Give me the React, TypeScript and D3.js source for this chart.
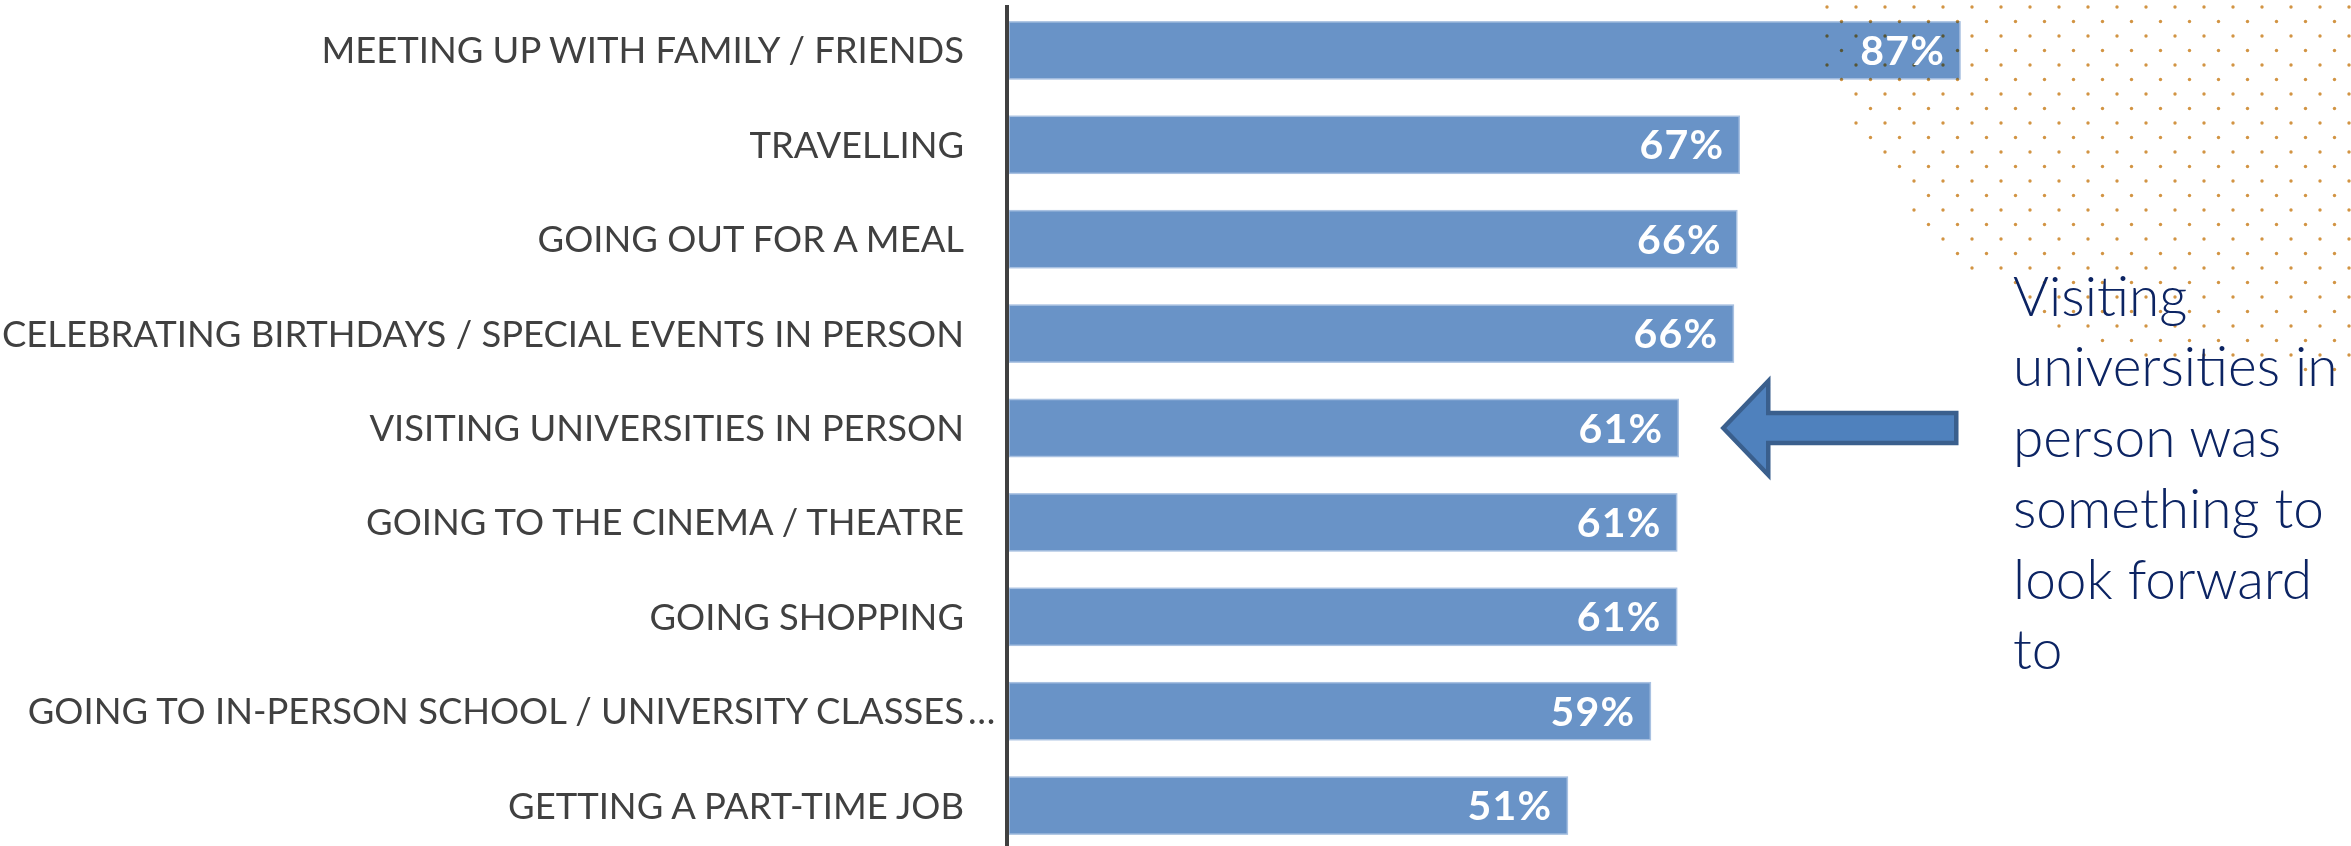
import React from 'react';
import * as d3 from 'd3';

const categories = [
  'MEETING UP WITH FAMILY / FRIENDS',
  'TRAVELLING',
  'GOING OUT FOR A MEAL',
  'CELEBRATING BIRTHDAYS / SPECIAL EVENTS IN PERSON',
  'VISITING UNIVERSITIES IN PERSON',
  'GOING TO THE CINEMA / THEATRE',
  'GOING SHOPPING',
  'GOING TO IN-PERSON SCHOOL / UNIVERSITY CLASSES…',
  'GETTING A PART-TIME JOB',
];
const values = [86.85, 66.69, 66.46, 66.15, 61.12, 60.97, 60.97, 58.57, 50.99];
const highlightCategory = 'VISITING UNIVERSITIES IN PERSON';
const annotationLines = ['Visiting', 'universities in', 'person was', 'something to', 'look forward', 'to'];
// decorative dot field: first column index per row
const DOT_ROW_START = [0, 0, 0, 0, 0, 0, 1, 1, 1, 1, 2, 2, 3, 3, 3, 3, 4, 4, 5, 6, 7, 7, 8, 9, 11, 16];

const W = 2351;
const H = 846;

export default function App() {
  const x = d3.scaleLinear().domain([0, 100]).range([1009, 2104]);
  const y = d3
    .scaleBand<string>()
    .domain(categories)
    .range([3, 853])
    .paddingInner(0.396)
    .paddingOuter(0.2);
  const bw = y.bandwidth();

  const labelX = 964;
  const labelSize = 36.4;
  const pctSize = 41;

  // dots
  const dots: { cx: number; cy: number }[] = [];
  const dx = 29;
  const dyRow = 14.5;
  DOT_ROW_START.forEach((start, k) => {
    const base = 1827 + (k % 2 ? dx / 2 : 0);
    const cy = 7 + k * dyRow;
    for (let i = start; base + i * dx < W; i++) {
      dots.push({ cx: base + i * dx, cy });
    }
  });

  const hiIdx = categories.indexOf(highlightCategory);
  const cyArrow = (y(highlightCategory) as number) + bw / 2;
  const tipX = x(values[hiIdx]) + 45;
  const headX = tipX + 45;
  const endX = tipX + 233;
  const headH = 47;
  const shaftH = 15;
  const arrowPts: [number, number][] = [
    [tipX, cyArrow],
    [headX, cyArrow - headH],
    [headX, cyArrow - shaftH],
    [endX, cyArrow - shaftH],
    [endX, cyArrow + shaftH],
    [headX, cyArrow + shaftH],
    [headX, cyArrow + headH],
  ];
  const arrowPath = d3.line()(arrowPts) + 'Z';

  return (
    <svg
      width={W}
      height={H}
      style={{ position: 'absolute', left: 0, top: 0, display: 'block', background: '#fff' }}
    >
      {/* bars */}
      {categories.map((c, i) => (
        <rect
          key={c}
          x={x(0)}
          y={y(c)}
          width={x(values[i]) - x(0)}
          height={bw}
          fill="#6993c7"
          stroke="#a9c1e1"
          strokeWidth={1.5}
        />
      ))}

      {/* decorative dots */}
      <g style={{ mixBlendMode: 'multiply' }}>
        {dots.map((d, i) => (
          <circle key={i} cx={d.cx} cy={d.cy} r={1.7} fill="#d29443" />
        ))}
      </g>

      {/* axis line */}
      <line x1={1007} x2={1007} y1={5} y2={H} stroke="#404040" strokeWidth={4} />

      {/* category labels */}
      {categories.map((c) => {
        const cy = (y(c) as number) + bw / 2;
        const trunc = c.endsWith('…');
        const main = trunc ? c.slice(0, -1) : c;
        return (
          <g key={c} fontFamily="Lato, 'Open Sans', sans-serif" fontSize={labelSize} fill="#404040">
            <text x={labelX} y={cy} dy="0.358em" textAnchor="end">
              {main}
            </text>
            {trunc && (
              <text x={labelX + 4} y={cy} dy="0.358em" textAnchor="start">
                …
              </text>
            )}
          </g>
        );
      })}

      {/* value labels */}
      {categories.map((c, i) => (
        <text
          key={c}
          x={x(values[i]) - 15}
          y={(y(c) as number) + bw / 2}
          dy="0.358em"
          textAnchor="end"
          fontFamily="Lato, 'Open Sans', sans-serif"
          fontWeight={700}
          fontSize={pctSize}
          letterSpacing={1.2}
          fill="#ffffff"
        >
          {Math.round(values[i])}%
        </text>
      ))}

      {/* arrow */}
      <path d={arrowPath} fill="#4f81bd" stroke="#3a5f8d" strokeWidth={4.5} strokeLinejoin="miter" />

      {/* annotation */}
      <g fontFamily="Lato, 'Open Sans', sans-serif" fontWeight={300} fontSize={55} fill="#0c2463">
        {annotationLines.map((t, i) => (
          <text key={i} x={2013} y={315.7 + i * 70.7}>
            {t}
          </text>
        ))}
      </g>
    </svg>
  );
}
